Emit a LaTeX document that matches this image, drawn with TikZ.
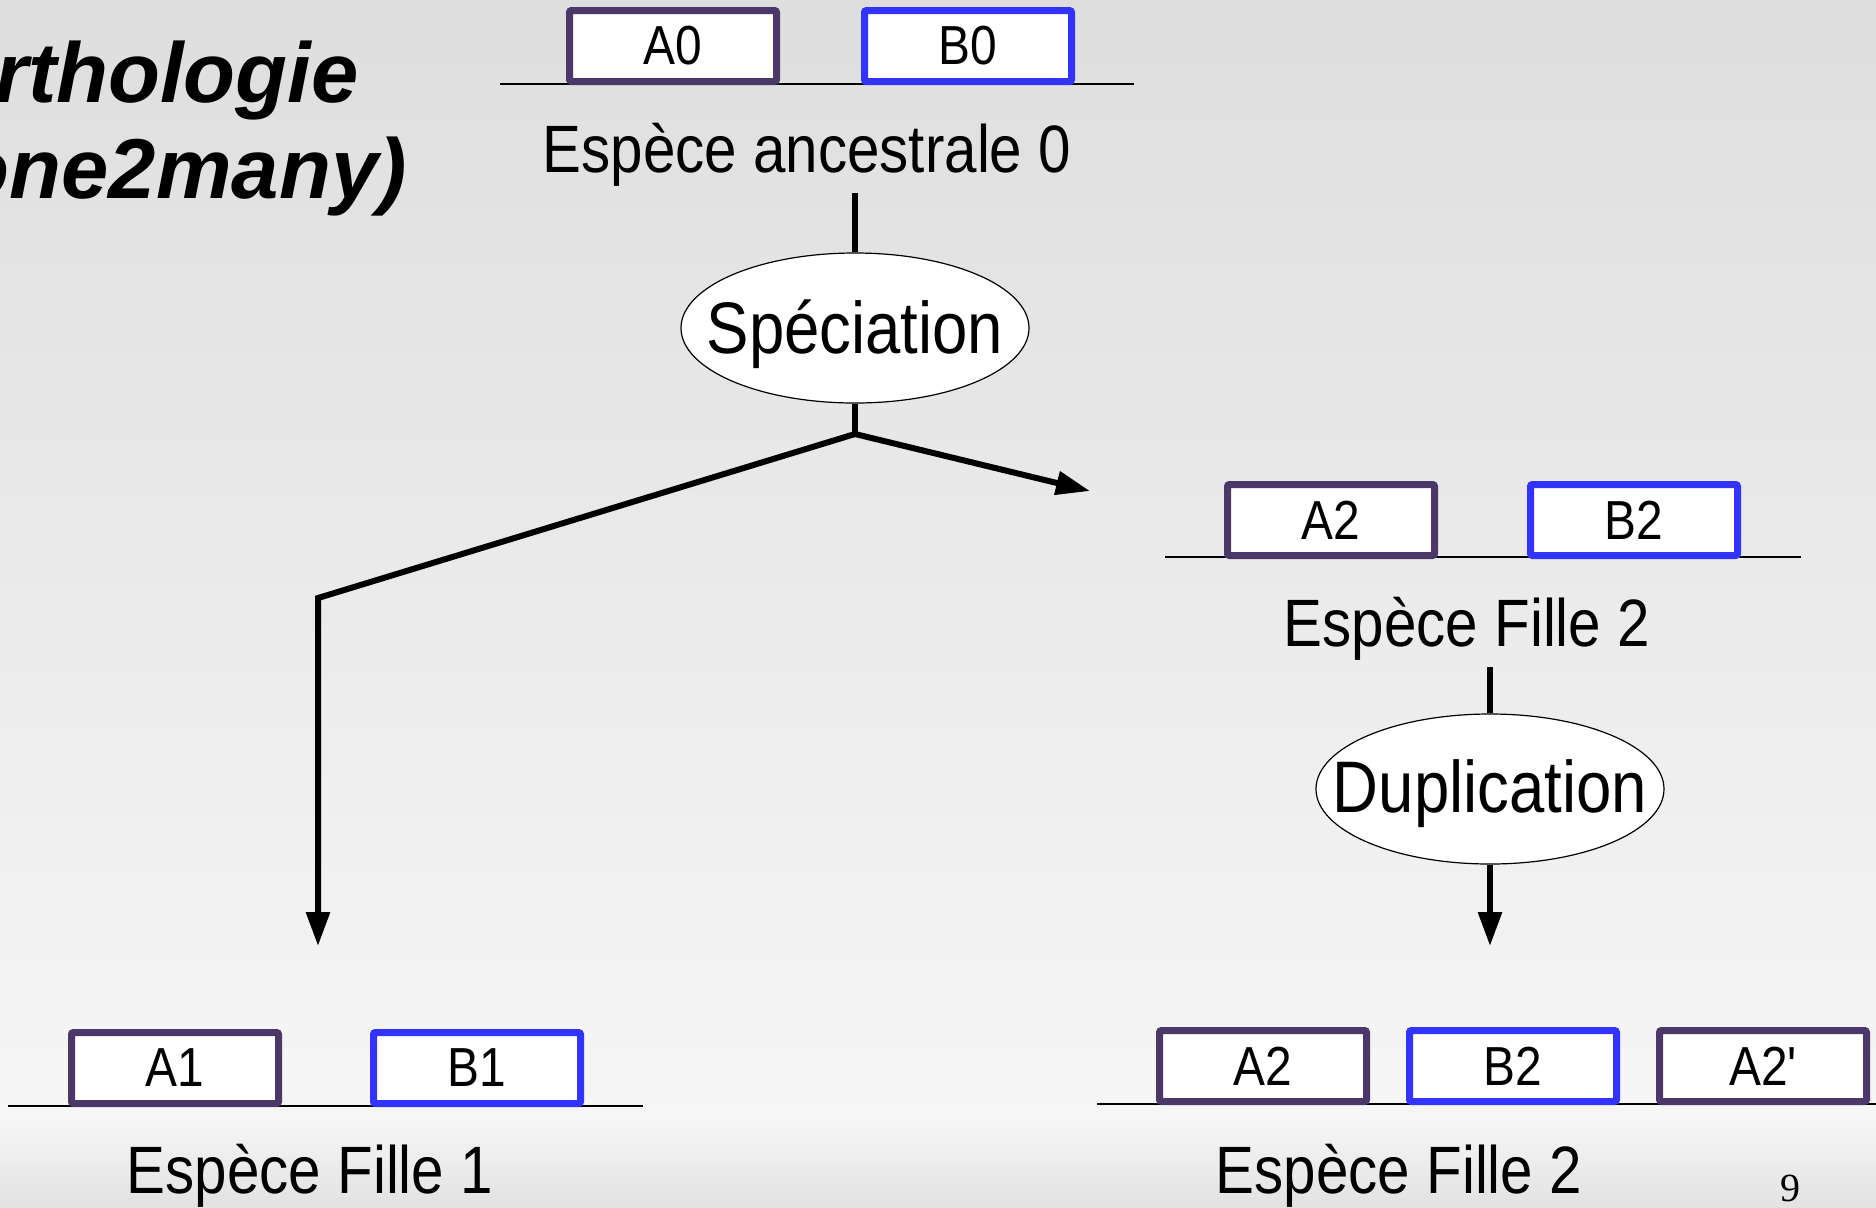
\documentclass[tikz,border=0pt]{standalone}
\usepackage{fontspec}
\setmainfont{Liberation Sans}
\newfontfamily\nsans[FakeStretch=0.87]{Liberation Sans}
\newfontfamily\titlefont{Liberation Sans}
\newfontfamily\serifnum{Liberation Serif}
\usetikzlibrary{arrows.meta,shapes.geometric}
\definecolor{genepurple}{HTML}{4B3869}
\definecolor{geneblue}{HTML}{3333FF}
\definecolor{bgtop}{HTML}{DEDEDE}
\definecolor{bgmid}{HTML}{F6F6F6}
\definecolor{bgbot}{HTML}{E2E2E2}
\tikzset{
  gene/.style={draw, line width=3.5pt, fill=white, rounded corners=1pt,
    minimum width=103.5pt, minimum height=35.5pt, inner sep=0pt,
    font=\nsans\fontsize{27.5}{30}\selectfont},
  geneA/.style={gene, draw=genepurple},
  geneB/.style={gene, draw=geneblue},
  species/.style={inner sep=3.5pt, anchor=base, font=\nsans\fontsize{33.5}{38}\selectfont},
  event/.style={ellipse, draw, line width=0.6pt, fill=white, inner sep=0pt,
    minimum width=174pt, minimum height=75pt, font=\nsans\fontsize{36.5}{40}\selectfont},
  chrom/.style={line width=0.6pt, black},
  branch/.style={line width=3pt, black},
  arrowed/.style={branch, -{Triangle[length=17pt,width=11.5pt]}},
  titletext/.style={anchor=base east, inner sep=0pt,
    font=\titlefont\bfseries\itshape\fontsize{42.5}{50}\selectfont}
}
\begin{document}
\begin{tikzpicture}[x=0.5pt,y=-0.5pt]
\useasboundingbox (0,0) rectangle (1876,1207);
\clip (0,0) rectangle (1876,1207);
\fill[top color=bgtop, bottom color=bgmid] (0,0) rectangle (1876,1121);
\fill[top color=bgmid, bottom color=bgbot] (0,1120) rectangle (1876,1207);

% title (cut by the left edge)
\node[titletext] (t1) at (359,102) {rthologie};
\node[titletext] (t2) at (407,198) {one2many)};

% ancestral species
\draw[chrom] (500,84) -- (1134,84);
\node[geneA] (A0) at (673,46) {A0};
\node[geneB] (B0) at (968,46) {B0};
\node[species] (E0) at (807,172) {Espèce ancestrale 0};

\node[event] (Sp) at (855,328) {\makebox[0pt]{\raisebox{-3pt}[\height][\depth]{Spéciation}}};
\coordinate (fork) at (855,434);
\coordinate (bend) at (318,598);
\coordinate (endL) at (318,946);
\coordinate (endR) at (1090,491);
\draw[branch] (E0.south -| Sp.north) -- (Sp.north);
\draw[branch] (Sp.south) -- (fork);
\draw[arrowed, line join=miter] (fork) -- (bend) -- (endL);
\draw[arrowed] (fork) -- (endR);

% daughter species 2 (before duplication)
\draw[chrom] (1165,557) -- (1801,557);
\node[geneA] (A2) at (1331,520) {A2};
\node[geneB] (B2) at (1634,520) {B2};
\node[species] (F2) at (1467,646) {Espèce Fille 2};

\node[event] (Du) at (1490,789) {\makebox[0pt]{\raisebox{-2.5pt}[\height][\depth]{Duplication}}};
\coordinate (endD) at (1490,946);
\draw[branch] (F2.south -| Du.north) -- (Du.north);
\draw[arrowed] (Du.south) -- (endD);

% daughter species 1
\draw[chrom] (8,1106) -- (643,1106);
\node[geneA] (A1) at (175,1068) {A1};
\node[geneB] (B1) at (477,1068) {B1};
\node[species] (F1) at (310,1193) {Espèce Fille 1};

% daughter species 2 (after duplication)
\draw[chrom] (1097,1104) -- (1876,1104);
\node[geneA] (A2b) at (1263,1066) {A2};
\node[geneB] (B2b) at (1513,1066) {B2};
\node[geneA] (A2p) at (1763,1066) {A2'};
\node[species] (F2b) at (1399,1193) {Espèce Fille 2};

\node[anchor=base, inner sep=0pt, font=\serifnum\fontsize{20}{22}\selectfont] (pg) at (1790,1201) {9};
\end{tikzpicture}
\end{document}
